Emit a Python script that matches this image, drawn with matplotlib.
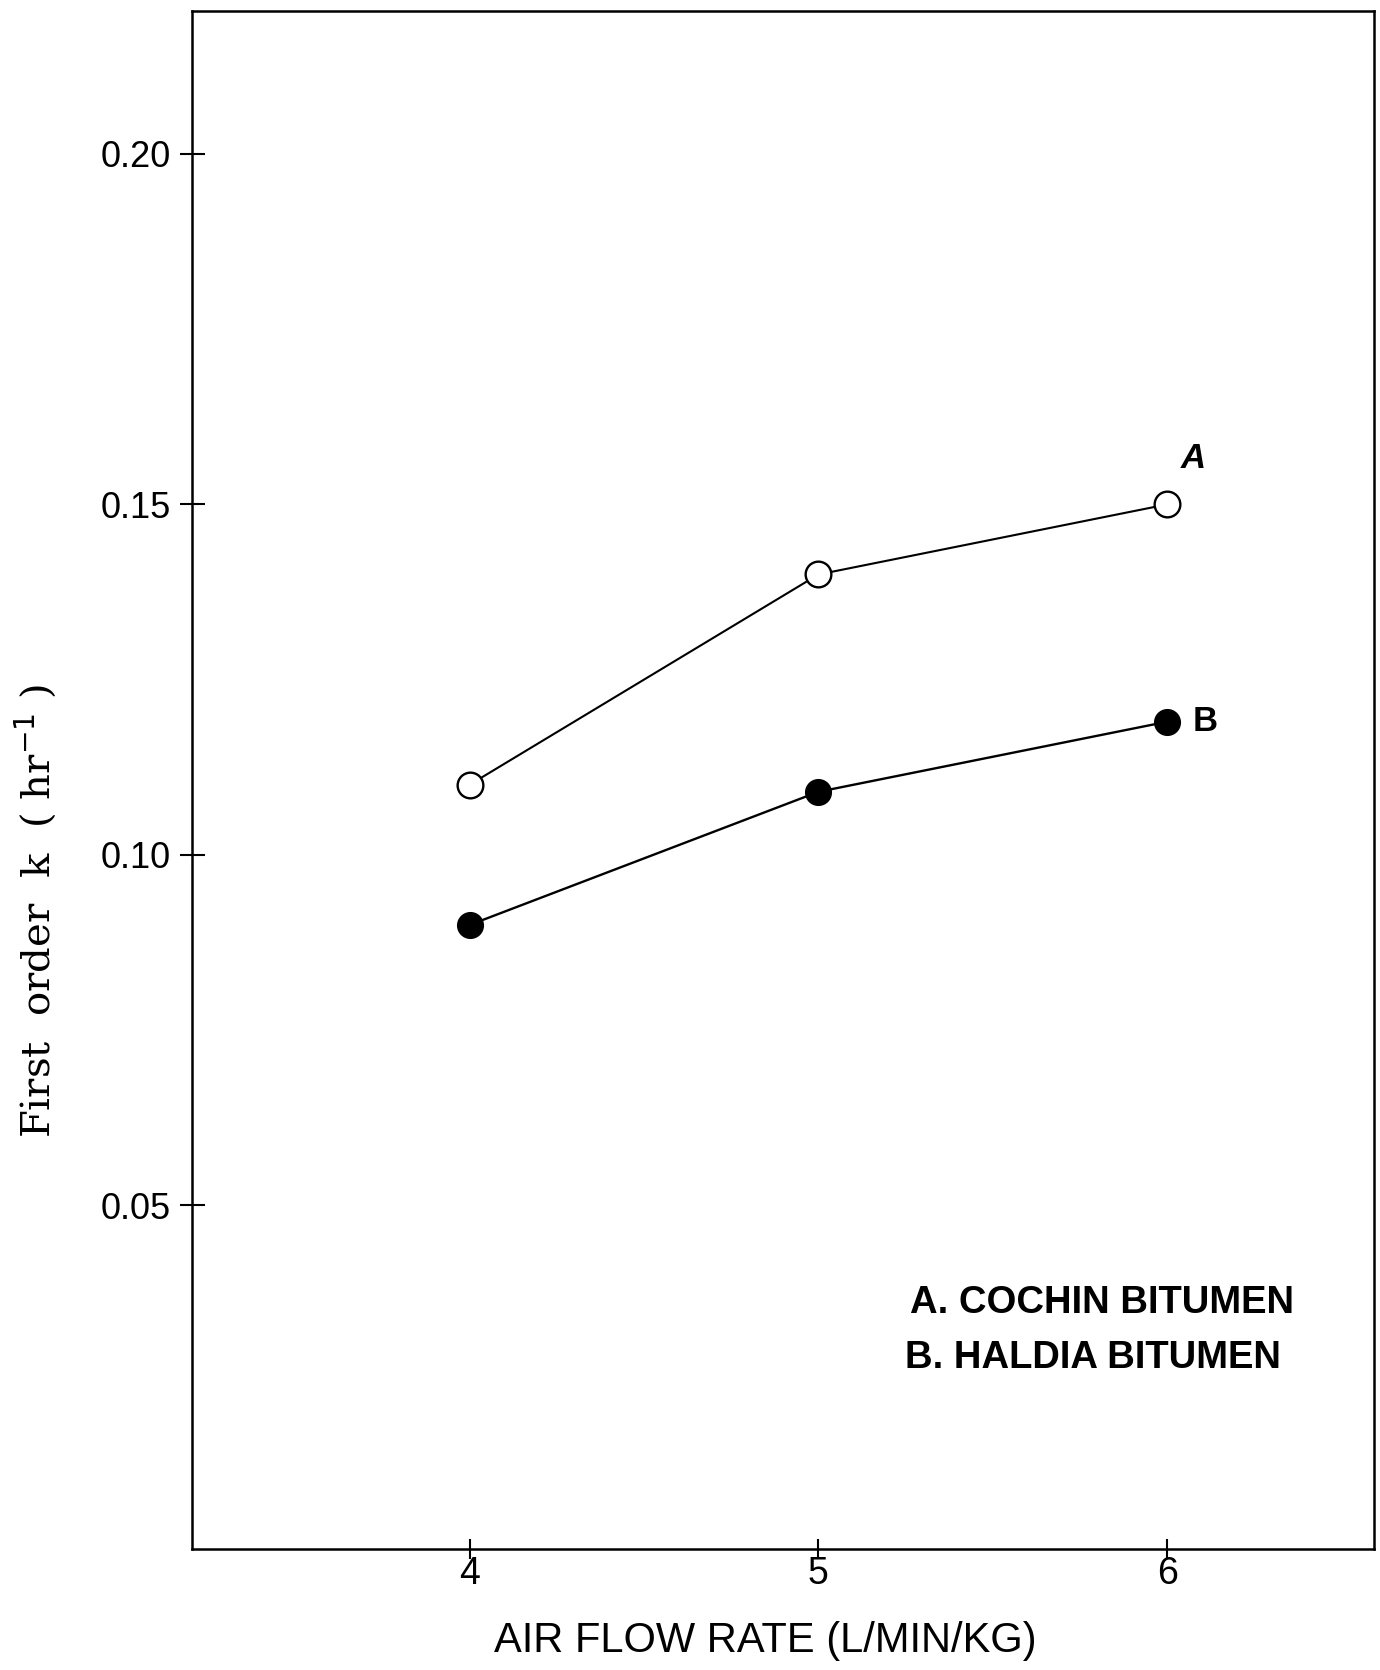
import numpy as np
import matplotlib
matplotlib.use("Agg")
import matplotlib.pyplot as plt

# ── data ────────────────────────────────────────────────
air_flow = [4, 5, 6]
k_cochin = [0.110, 0.140, 0.150]   # A, open circles
k_haldia = [0.090, 0.109, 0.119]   # B, filled circles
y_ticks = [0.05, 0.10, 0.15, 0.20]
y_tick_labels = ["0.05", "0.10", "0.15", "0.20"]
legend_lines = ["A. COCHIN BITUMEN", "B. HALDIA BITUMEN"]
# ────────────────────────────────────────────────────────

SANS = ["Liberation Sans", "DejaVu Sans"]

fig = plt.figure(figsize=(13.8, 16.7), dpi=100)
ax = fig.add_axes([0.139, 0.0725, 0.857, 0.921])

ax.plot(air_flow, k_cochin, color="black", lw=1.5, marker="o", ms=18.5,
        mfc="white", mec="black", mew=1.7, zorder=3)
ax.plot(air_flow, k_haldia, color="black", lw=1.7, marker="o", ms=18.5,
        mfc="black", mec="black", zorder=3)

# curve labels next to the last points
ax.annotate("A", (air_flow[-1], k_cochin[-1]), xytext=(19, 33),
            textcoords="offset points", ha="center", va="center",
            fontsize=25, fontweight="bold", fontstyle="italic", family=SANS)
ax.annotate("B", (air_flow[-1], k_haldia[-1]), xytext=(27, 0),
            textcoords="offset points", ha="center", va="center",
            fontsize=25, fontweight="bold", family=SANS)

# key in the lower right corner
ax.text(0.932, 0.160, legend_lines[0], transform=ax.transAxes, ha="right",
        va="center", fontsize=27.5, fontweight="bold", family=SANS)
ax.text(0.921, 0.124, legend_lines[1], transform=ax.transAxes, ha="right",
        va="center", fontsize=27.5, fontweight="bold", family=SANS)

ax.set_xlim(3.204, 6.594)
ax.set_ylim(0.001, 0.2204)
ax.set_xticks(air_flow)
ax.set_yticks(y_ticks)
ax.set_yticklabels(y_tick_labels)

for lab in ax.get_yticklabels():
    lab.set_family(SANS)
    lab.set_fontsize(26)
for lab in ax.get_xticklabels():
    lab.set_family(SANS)
    lab.set_fontsize(27)

ax.tick_params(axis="both", direction="inout", width=1.5, color="black")
ax.tick_params(axis="x", length=14, pad=-2)
ax.tick_params(axis="y", length=18, pad=6)

for sp in ax.spines.values():
    sp.set_linewidth(1.8)

ax.set_xlabel("AIR FLOW RATE (L/MIN/KG)", family=SANS, fontsize=30)
ax.xaxis.set_label_coords(0.485, -0.047)
ax.set_ylabel(r"First  order  k  ( hr$^{-1}$ )", family="DejaVu Serif",
              fontsize=29)
ax.yaxis.set_label_coords(-0.113, 0.415)

fig.savefig("out.png", dpi=100)
